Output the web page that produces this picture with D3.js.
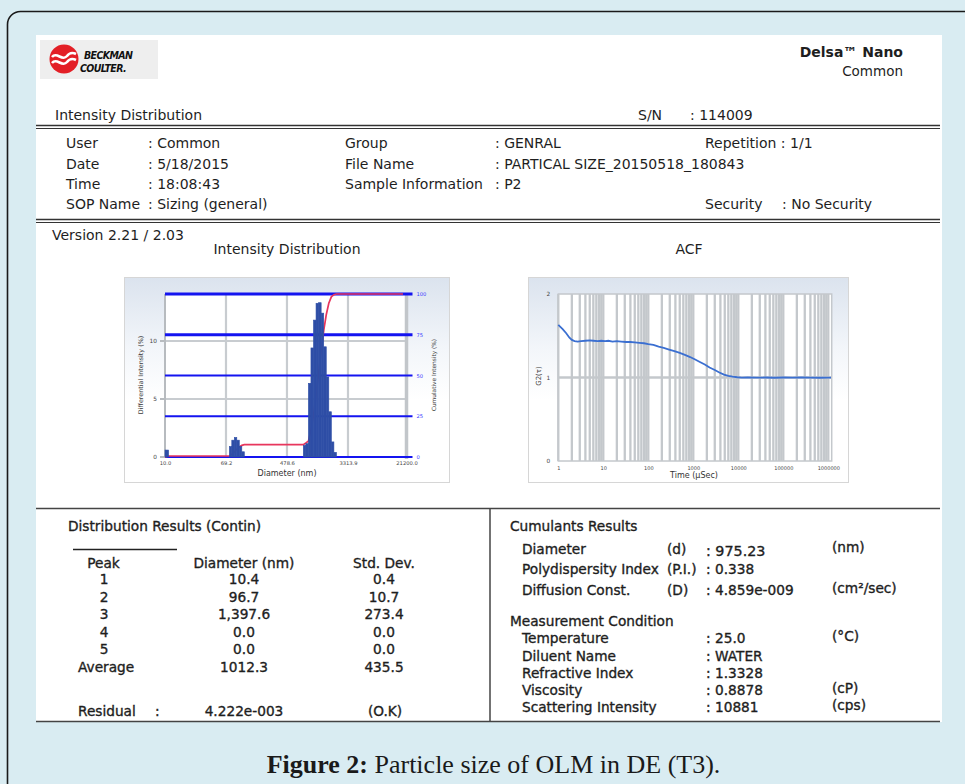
<!DOCTYPE html>
<html>
<head>
<meta charset="utf-8">
<title>Particle size report</title>
<script src="https://cdn.jsdelivr.net/npm/d3@7/dist/d3.min.js"></script>
<style>
  html, body { margin: 0; padding: 0; background: #d9ecf2; }
  svg { display: block; }
</style>
</head>
<body>
<svg id="report"></svg>
<script>
// ---------- Intensity distribution (Contin) ----------
const diameterTicks = [10.0, 69.2, 478.6, 3313.9, 21200.0];
const diameterTickLabels = ["10.0", "69.2", "478.6", "3313.9", "21200.0"];
const differentialTicks = [0, 5, 10];
const cumulativeTicks = [0, 25, 50, 75, 100];
// size bins (nm) and differential intensity (%)
const binLow  = [10.0, 76.9, 83.2, 90.1, 97.5, 105.5, 114.3, 803.5, 871.2, 944.5, 1024.0, 1110.4, 1203.7, 1305.0, 1414.9, 1534.6, 1663.6, 1803.4, 1955.5, 2120.0];
const binHigh = [11.2, 83.2, 90.1, 97.5, 105.5, 114.3, 123.7, 871.2, 944.5, 1024.0, 1110.4, 1203.7, 1305.0, 1414.9, 1534.6, 1663.6, 1803.4, 1955.5, 2120.0, 2299.2];
const binIntensity = [0.6, 0.9, 1.45, 1.68, 1.45, 0.9, 0.45, 1.0, 1.15, 6.35, 9.4, 11.8, 13.25, 13.3, 12.4, 9.5, 6.9, 3.9, 1.3, 0.4];
const cumulativeEnd = 19000;

// ---------- Autocorrelation function ----------
const acfTime = [1, 1.25, 1.5, 1.75, 2, 2.3, 2.7, 3.2, 4, 5, 6, 7.5, 9, 11, 13, 16, 20, 25, 32, 40, 50, 63, 80, 100, 130, 170, 220, 290, 380, 500, 650, 850, 1100, 1400, 1800, 2300, 3000, 3800, 4800, 6000, 7500, 9500, 12000, 16000, 25000, 40000, 63000, 100000, 160000, 250000, 400000, 630000, 1000000, 1150000];
const acfG = [1.63, 1.58, 1.53, 1.48, 1.45, 1.435, 1.43, 1.435, 1.44, 1.445, 1.44, 1.435, 1.44, 1.435, 1.44, 1.43, 1.435, 1.43, 1.425, 1.425, 1.42, 1.415, 1.41, 1.40, 1.39, 1.37, 1.355, 1.335, 1.315, 1.295, 1.27, 1.245, 1.215, 1.185, 1.155, 1.12, 1.09, 1.06, 1.035, 1.02, 1.01, 1.003, 0.998, 1.0, 0.998, 1.0, 0.997, 1.0, 0.998, 1.0, 0.999, 0.997, 0.999, 0.998];
const timeTicks = [1, 10, 100, 1000, 10000, 100000, 1000000];
const gTicks = [0, 1, 2];

// ---------- Report fields ----------
const infoY = [143, 163.5, 184, 204];
const infoLeft = [["User", ": Common"], ["Date", ": 5/18/2015"], ["Time", ": 18:08:43"], ["SOP Name", ": Sizing (general)"]];
const infoMid = [["Group", ": GENRAL"], ["File Name", ": PARTICAL SIZE_20150518_180843"], ["Sample Information", ": P2"], ["", ""]];
const infoRight = [["Repetition : 1/1", ""], ["", ""], ["", ""], ["Security", ": No Security"]];

const peakRows = [["1", "10.4", "0.4"], ["2", "96.7", "10.7"], ["3", "1,397.6", "273.4"], ["4", "0.0", "0.0"], ["5", "0.0", "0.0"]];
const peakY = [579, 596.5, 614, 631.5, 649];
const averageRow = ["Average", "1012.3", "435.5"];
const residualRow = ["Residual", ":", "4.222e-003", "(O.K)"];

const cumulantRows = [
  { name: "Diameter", sym: "(d)", value: ": 975.23", unit: "(nm)", y: 549 },
  { name: "Polydispersity Index", sym: "(P.I.)", value: ": 0.338", unit: "", y: 569 },
  { name: "Diffusion Const.", sym: "(D)", value: ": 4.859e-009", unit: "(cm\u00B2/sec)", y: 590 }
];
const conditionRows = [
  { name: "Temperature", value: ": 25.0", unit: "(\u00B0C)", y: 638 },
  { name: "Diluent Name", value: ": WATER", unit: "", y: 656 },
  { name: "Refractive Index", value: ": 1.3328", unit: "", y: 673 },
  { name: "Viscosity", value: ": 0.8878", unit: "(cP)", y: 690 },
  { name: "Scattering Intensity", value: ": 10881", unit: "(cps)", y: 707 }
];

const SANS = "'DejaVu Sans', Verdana, sans-serif";
const svg = d3.select("#report").attr("width", 965).attr("height", 784);

function label(parent, x, y, s, o = {}) {
  const t = parent.append("text")
    .attr("x", x).attr("y", y)
    .attr("font-family", o.family || SANS)
    .attr("font-size", o.size || 14)
    .attr("fill", o.fill || "#1e1e1e")
    .attr("text-anchor", o.anchor || "start")
    .attr("dominant-baseline", "central")
    .text(s);
  if (o.weight) t.attr("font-weight", o.weight);
  if (o.style) t.attr("font-style", o.style);
  if (o.ls) t.attr("letter-spacing", o.ls);
  if (o.heavy) t.attr("stroke", o.fill || "#1e1e1e").attr("stroke-width", o.heavy);
  if (o.rotate) t.attr("transform", `rotate(${o.rotate},${x},${y})`);
  return t;
}
function hline(x1, x2, y, stroke, w) {
  svg.append("line").attr("x1", x1).attr("x2", x2).attr("y1", y).attr("y2", y)
    .attr("stroke", stroke).attr("stroke-width", w);
}
function vline(x, y1, y2, stroke, w) {
  svg.append("line").attr("x1", x).attr("x2", x).attr("y1", y1).attr("y2", y2)
    .attr("stroke", stroke).attr("stroke-width", w);
}

// ---------- Page ----------
const defs = svg.append("defs");
const grad = defs.append("linearGradient").attr("id", "panelGrad")
  .attr("x1", 0).attr("y1", 0).attr("x2", 0).attr("y2", 1);
grad.append("stop").attr("offset", "0%").attr("stop-color", "#dbe3ee");
grad.append("stop").attr("offset", "35%").attr("stop-color", "#f3f6fa");
grad.append("stop").attr("offset", "60%").attr("stop-color", "#ffffff");

svg.append("rect").attr("width", 965).attr("height", 784).attr("fill", "#d9ecf2");
svg.append("rect").attr("x", 7.5).attr("y", 11.5).attr("width", 1000).attr("height", 1000)
  .attr("rx", 13).attr("fill", "none").attr("stroke", "#1a1a1a").attr("stroke-width", 1.6);
svg.append("rect").attr("x", 36).attr("y", 35).attr("width", 906).attr("height", 687).attr("fill", "#ffffff");

// logo
const logo = svg.append("g");
logo.append("rect").attr("x", 40).attr("y", 40).attr("width", 118).attr("height", 39).attr("fill", "#eeeeee");
logo.append("circle").attr("cx", 64).attr("cy", 59).attr("r", 14.5).attr("fill", "#e31f26");
logo.append("path").attr("d", "M52,57 C57,51 62,62 67,56 C70,52 74,53 76,54")
  .attr("fill", "none").attr("stroke", "#fff").attr("stroke-width", 2.6);
logo.append("path").attr("d", "M52,63 C57,57 62,68 67,62 C70,58 74,59 76,60")
  .attr("fill", "none").attr("stroke", "#fff").attr("stroke-width", 2.6);
const logoFont = "'DejaVu Sans Condensed', 'DejaVu Sans', sans-serif";
label(logo, 84, 54.5, "BECKMAN", { size: 10.5, weight: "bold", style: "italic", ls: -0.6, family: logoFont, fill: "#111" });
label(logo, 80, 68, "COULTER.", { size: 10.5, weight: "bold", style: "italic", ls: -0.6, family: logoFont, fill: "#111" });

label(svg, 903, 52, "Delsa\u2122 Nano", { anchor: "end", weight: "bold", size: 14 });
label(svg, 903, 71, "Common", { anchor: "end", size: 13.5 });

label(svg, 55, 115, "Intensity Distribution");
label(svg, 638, 115, "S/N");
label(svg, 690, 115, ": 114009");
hline(36, 940, 125.5, "#333", 1.4);
hline(36, 940, 128.5, "#333", 1.1);

infoY.forEach((y, i) => {
  label(svg, 66, y, infoLeft[i][0]);
  label(svg, 148, y, infoLeft[i][1]);
  if (infoMid[i][0]) { label(svg, 345, y, infoMid[i][0]); label(svg, 495, y, infoMid[i][1]); }
  if (infoRight[i][0]) label(svg, 705, y, infoRight[i][0]);
  if (infoRight[i][1]) label(svg, 782, y, infoRight[i][1]);
});
hline(36, 940, 219.5, "#333", 1.4);
hline(36, 940, 222.5, "#333", 1.1);

label(svg, 52, 235, "Version 2.21 / 2.03");
label(svg, 287, 249, "Intensity Distribution", { anchor: "middle" });
label(svg, 689, 249, "ACF", { anchor: "middle" });

// ---------- Intensity distribution chart ----------
const hx = d3.scaleLog().domain([10, 21200]).range([165, 406.5]);
const hyL = d3.scaleLinear().domain([0, 14.05]).range([457, 294]);
const hyR = d3.scaleLinear().domain([0, 100]).range([457, 294]);
const g1 = svg.append("g");
g1.append("rect").attr("x", 124.5).attr("y", 277.5).attr("width", 325).attr("height", 205)
  .attr("fill", "url(#panelGrad)").attr("stroke", "#d6d6d6");
g1.append("rect").attr("x", hx(10)).attr("y", hyR(100)).attr("width", hx(21200) - hx(10))
  .attr("height", hyR(0) - hyR(100)).attr("fill", "#fff");

const gridGray = "#c8ccd0";
g1.selectAll(".vg").data(diameterTicks.slice(1, -1)).join("line")
  .attr("x1", d => hx(d)).attr("x2", d => hx(d)).attr("y1", hyR(100)).attr("y2", hyR(0))
  .attr("stroke", gridGray).attr("stroke-width", 2.2);
g1.selectAll(".hg").data(differentialTicks.filter(d => d > 0)).join("line")
  .attr("x1", hx(10)).attr("x2", hx(21200)).attr("y1", d => hyL(d)).attr("y2", d => hyL(d))
  .attr("stroke", gridGray).attr("stroke-width", 2.2);
g1.selectAll(".lt").data(differentialTicks).join("line")
  .attr("x1", hx(10) - 5).attr("x2", hx(10)).attr("y1", d => hyL(d)).attr("y2", d => hyL(d))
  .attr("stroke", "#b7bbbf").attr("stroke-width", 2);
g1.append("line").attr("x1", hx(10)).attr("x2", hx(10)).attr("y1", hyR(100)).attr("y2", hyR(0))
  .attr("stroke", "#b7bbbf").attr("stroke-width", 2);
g1.append("line").attr("x1", hx(21200)).attr("x2", hx(21200)).attr("y1", hyR(100) - 1).attr("y2", hyR(0) + 2)
  .attr("stroke", "#c2c6ca").attr("stroke-width", 3.5);

g1.selectAll(".cg").data(cumulativeTicks).join("line")
  .attr("x1", hx(10)).attr("x2", hx(21200) + 6).attr("y1", d => hyR(d)).attr("y2", d => hyR(d))
  .attr("stroke", "#1414f0").attr("stroke-width", d => d >= 75 ? 3 : 1.8);

// cumulative intensity, built from the bins
const total = d3.sum(binIntensity);
const cum = Array.from(d3.cumsum(binIntensity), v => v / total * 100);
const cumPts = [];
binLow.forEach((lo, i) => {
  cumPts.push([lo, i === 0 ? 0 : cum[i - 1]]);
  cumPts.push([binHigh[i], cum[i]]);
});
cumPts.push([cumulativeEnd, 100]);
g1.append("path").datum(cumPts)
  .attr("d", d3.line().x(d => hx(d[0])).y(d => hyR(d[1])))
  .attr("fill", "none").attr("stroke", "#e8365d").attr("stroke-width", 1.7);

g1.selectAll(".bar").data(binIntensity).join("rect")
  .attr("x", (d, i) => hx(binLow[i])).attr("width", (d, i) => hx(binHigh[i]) - hx(binLow[i]))
  .attr("y", d => hyL(d)).attr("height", d => hyL(0) - hyL(d))
  .attr("fill", "#2e4ea6").attr("stroke", "#2e4ea6").attr("stroke-width", 0.6);

function styleAxis(sel, size, fill) {
  sel.select(".domain").remove();
  sel.selectAll("text").attr("font-family", SANS).attr("font-size", size).attr("fill", fill);
}
g1.append("g").attr("transform", `translate(0,${hyR(0)})`)
  .call(d3.axisBottom(hx).tickValues(diameterTicks).tickFormat((d, i) => diameterTickLabels[i]).tickSize(0).tickPadding(4))
  .call(s => styleAxis(s, 5.2, "#444"));
g1.append("g").attr("transform", `translate(${hx(10) - 6},0)`)
  .call(d3.axisLeft(hyL).tickValues(differentialTicks).tickFormat(d3.format("d")).tickSize(0).tickPadding(2))
  .call(s => styleAxis(s, 5.8, "#444"));
g1.append("g").attr("transform", `translate(${hx(21200) + 8},0)`)
  .call(d3.axisRight(hyR).tickValues(cumulativeTicks).tickFormat(d3.format("d")).tickSize(0).tickPadding(2))
  .call(s => styleAxis(s, 5.2, "#3c3cff"));
label(g1, 287, 473.5, "Diameter (nm)", { anchor: "middle", size: 8, fill: "#333" });
label(g1, 141, 375, "Differential Intensity (%)", { anchor: "middle", size: 6.4, fill: "#3a3a3a", rotate: -90 });
label(g1, 434, 375, "Cumulative Intensity (%)", { anchor: "middle", size: 5.8, fill: "#3a3a3a", rotate: -90 });

// ---------- ACF chart ----------
const ax = d3.scaleLog().domain([1, 1.19e6]).range([558.3, 831.7]);
const ay = d3.scaleLinear().domain([0, 2]).range([461, 294]);
const g2 = svg.append("g");
g2.append("rect").attr("x", 528.5).attr("y", 277.5).attr("width", 320).attr("height", 205)
  .attr("fill", "url(#panelGrad)").attr("stroke", "#d6d6d6");
g2.append("rect").attr("x", ax(1)).attr("y", ay(2)).attr("width", ax(1.19e6) - ax(1))
  .attr("height", ay(0) - ay(2)).attr("fill", "#fff");
g2.selectAll(".tg").data(ax.ticks().filter(t => t <= 1e6)).join("line")
  .attr("x1", d => ax(d)).attr("x2", d => ax(d)).attr("y1", ay(2)).attr("y2", ay(0))
  .attr("stroke", "#c4c8cc").attr("stroke-width", 2.3);
g2.append("line").attr("x1", ax(1)).attr("x2", ax(1.19e6)).attr("y1", ay(1)).attr("y2", ay(1))
  .attr("stroke", "#c4c8cc").attr("stroke-width", 2.5);
g2.append("rect").attr("x", ax(1)).attr("y", ay(2)).attr("width", ax(1.19e6) - ax(1))
  .attr("height", ay(0) - ay(2)).attr("fill", "none").attr("stroke", "#c4c8cc").attr("stroke-width", 1.5);
g2.append("path").datum(acfTime.map((t, i) => [t, acfG[i]]))
  .attr("d", d3.line().x(d => ax(d[0])).y(d => ay(d[1])))
  .attr("fill", "none").attr("stroke", "#3b6fd1").attr("stroke-width", 1.8);
g2.append("g").attr("transform", `translate(0,${ay(0)})`)
  .call(d3.axisBottom(ax).tickValues(timeTicks).tickFormat(d3.format("d")).tickSize(0).tickPadding(5))
  .call(s => styleAxis(s, 5, "#444"));
g2.append("g").attr("transform", `translate(${ax(1) - 6},0)`)
  .call(d3.axisLeft(ay).tickValues(gTicks).tickFormat(d3.format("d")).tickSize(0).tickPadding(2))
  .call(s => styleAxis(s, 5.8, "#444"));
label(g2, 694, 475.5, "Time (\u03BCSec)", { anchor: "middle", size: 8, fill: "#333" });
label(g2, 539, 376, "G2(\u03C4)", { anchor: "middle", size: 7, fill: "#3a3a3a", rotate: -90 });

// ---------- Results tables ----------
hline(36, 940, 508.5, "#444", 1.5);
vline(490, 508, 722, "#444", 1.5);
hline(36, 940, 721.5, "#444", 1.5);

const T = 13.7;
const tb = { size: T, heavy: 0.35 };
label(svg, 68, 526, "Distribution Results (Contin)", tb);
hline(73, 177, 549.5, "#222", 1.5);
label(svg, 103.5, 563, "Peak", { ...tb, anchor: "middle" });
label(svg, 244, 563, "Diameter (nm)", { ...tb, anchor: "middle" });
label(svg, 384, 563, "Std. Dev.", { ...tb, anchor: "middle" });
peakRows.forEach((r, i) => {
  label(svg, 104, peakY[i], r[0], { ...tb, anchor: "middle" });
  label(svg, 244, peakY[i], r[1], { ...tb, anchor: "middle" });
  label(svg, 384, peakY[i], r[2], { ...tb, anchor: "middle" });
});
label(svg, 78, 667, averageRow[0], tb);
label(svg, 244, 667, averageRow[1], { ...tb, anchor: "middle" });
label(svg, 384, 667, averageRow[2], { ...tb, anchor: "middle" });
label(svg, 78, 711, residualRow[0], tb);
label(svg, 155, 711, residualRow[1], tb);
label(svg, 244, 711, residualRow[2], { ...tb, anchor: "middle" });
label(svg, 385, 711, residualRow[3], { ...tb, anchor: "middle" });

label(svg, 510, 526, "Cumulants Results", tb);
cumulantRows.forEach(r => {
  label(svg, 522, r.y, r.name, tb);
  label(svg, 667, r.y, r.sym, tb);
  label(svg, 706, r.y + (r.sym === "(d)" ? 2 : 0), r.value, r.sym === "(d)" ? { ...tb, size: 14.3 } : tb);
  if (r.unit) label(svg, 832, r.y - 2, r.unit, tb);
});
label(svg, 510, 621, "Measurement Condition", tb);
conditionRows.forEach(r => {
  label(svg, 522, r.y, r.name, tb);
  label(svg, 706, r.y, r.value, tb);
  if (r.unit) label(svg, 832, r.y - 2, r.unit, tb);
});

// ---------- Caption ----------
const cap = svg.append("text").attr("x", 493.5).attr("y", 764).attr("text-anchor", "middle")
  .attr("dominant-baseline", "central")
  .attr("font-family", "'Liberation Serif', 'Times New Roman', serif").attr("font-size", 26).attr("fill", "#1a1a1a");
cap.append("tspan").attr("font-weight", "bold").text("Figure 2:");
cap.append("tspan").text(" Particle size of OLM in DE (T3).");
</script>
</body>
</html>
